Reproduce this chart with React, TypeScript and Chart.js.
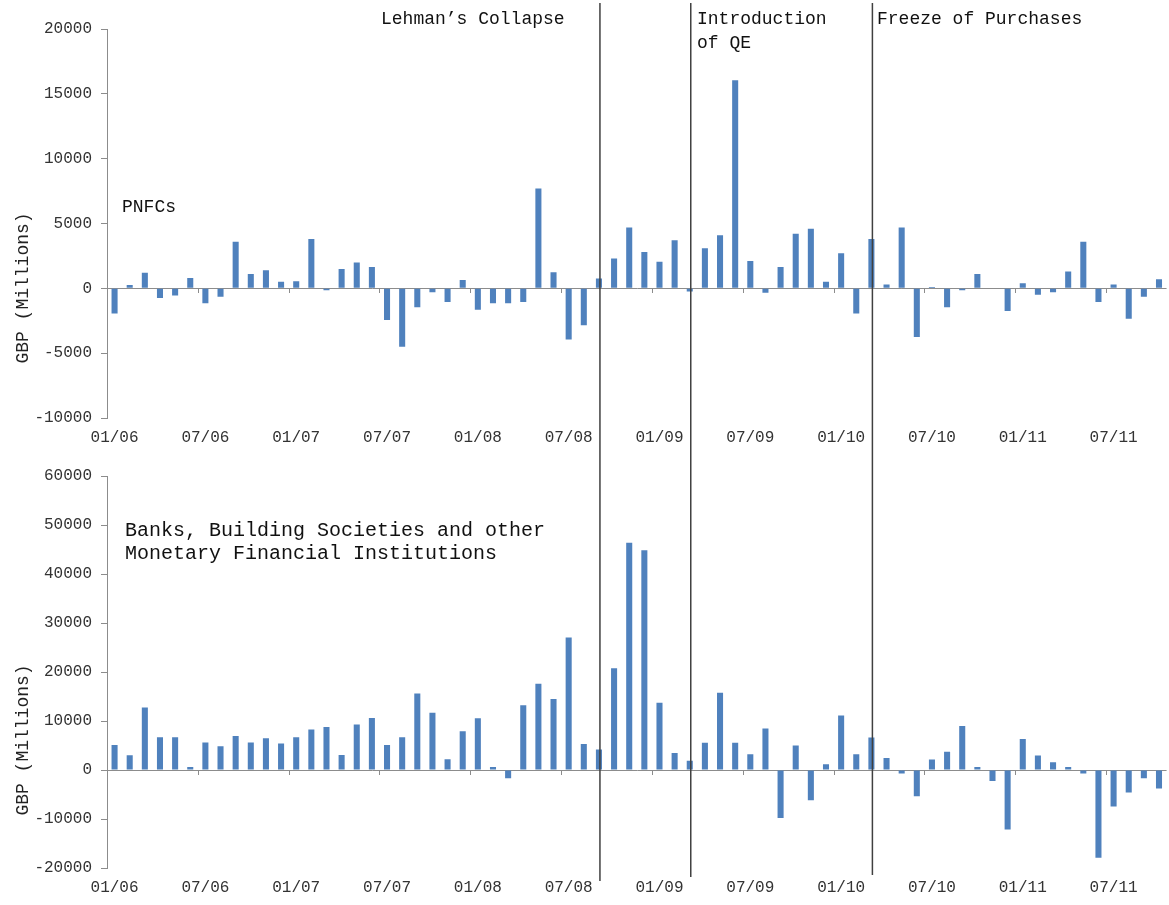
import React, { useEffect, useRef } from "react";
import { Chart, registerables } from "chart.js";

Chart.register(...registerables);

// ---------- data ----------
const months = [
  "01/06", "02/06", "03/06", "04/06", "05/06", "06/06", "07/06", "08/06", "09/06", "10/06", "11/06", "12/06",
  "01/07", "02/07", "03/07", "04/07", "05/07", "06/07", "07/07", "08/07", "09/07", "10/07", "11/07", "12/07",
  "01/08", "02/08", "03/08", "04/08", "05/08", "06/08", "07/08", "08/08", "09/08", "10/08", "11/08", "12/08",
  "01/09", "02/09", "03/09", "04/09", "05/09", "06/09", "07/09", "08/09", "09/09", "10/09", "11/09", "12/09",
  "01/10", "02/10", "03/10", "04/10", "05/10", "06/10", "07/10", "08/10", "09/10", "10/10", "11/10", "12/10",
  "01/11", "02/11", "03/11", "04/11", "05/11", "06/11", "07/11", "08/11", "09/11", "10/11",
];

const shownTickLabels = ["01/06", "07/06", "01/07", "07/07", "01/08", "07/08", "01/09", "07/09", "01/10", "07/10", "01/11", "07/11"];

const pnfcValues = [
  -1950, 250, 1200, -750, -550, 800, -1150, -650, 3600, 1100, 1400, 500,
  550, 3800, -150, 1500, 2000, 1650, -2450, -4500, -1450, -300, -1050, 650,
  -1650, -1150, -1150, -1050, 7700, 1250, -3950, -2850, 750, 2300, 4700, 2800,
  2050, 3700, -250, 3100, 4100, 16050, 2100, -350, 1650, 4200, 4600, 500,
  2700, -1950, 3800, 300, 4700, -3750, 100, -1450, -150, 1100, 0, -1750,
  400, -500, -300, 1300, 3600, -1050, 300, -2350, -650, 700,
];

const bankValues = [
  5100, 3000, 12750, 6700, 6700, 600, 5600, 4850, 6950, 5600, 6500, 5400,
  6700, 8250, 8800, 3050, 9300, 10600, 5100, 6700, 15600, 11700, 2200, 7900,
  10550, 600, -1700, 13200, 17600, 14500, 27050, 5300, 4200, 20750, 46400, 44850,
  13750, 3450, 1900, 5550, 15750, 5550, 3200, 8450, -9800, 5000, -6150, 1150,
  11100, 3200, 6650, 2450, -700, -5350, 2150, 3700, 9000, 600, -2250, -12150,
  6350, 2950, 1600, 600, -700, -17900, -7450, -4600, -1700, -3800,
];

const pnfcAxis = { min: -10000, max: 20000, step: 5000 };
const bankAxis = { min: -20000, max: 60000, step: 10000 };

const eventMonths = ["09/08", "03/09", "03/10"];
const eventLabels = [["Lehman’s Collapse"], ["Introduction", "of QE"], ["Freeze of Purchases"]];
const yAxisTitle = "GBP (Millions)";
const pnfcTitle = ["PNFCs"];
const bankTitle = ["Banks, Building Societies and other", "Monetary Financial Institutions"];

// ---------- style ----------
const MONO = '"Liberation Mono", "DejaVu Sans Mono", monospace';
const BAR = "#4F81BD";
const AXIS = "#8c8c8c";
const W = 1169;

type Note = { lines: string[]; x: number; y: number; lh: number; size: number };

const overlayPlugin = {
  id: "overlay",
  afterDatasetsDraw(chart: any, _args: any, o: any) {
    const { ctx } = chart;
    const x = chart.scales.x;
    const y = chart.scales.y;
    const y0 = y.getPixelForValue(0);
    ctx.save();
    // category tick marks on the zero line
    ctx.strokeStyle = AXIS;
    ctx.lineWidth = 1;
    months.forEach((m: string, i: number) => {
      if (i === 0 || !shownTickLabels.includes(m)) return;
      const px = Math.round((x.getPixelForValue(i - 1) + x.getPixelForValue(i)) / 2) + 0.5;
      ctx.beginPath();
      ctx.moveTo(px, Math.round(y0));
      ctx.lineTo(px, Math.round(y0) + 5);
      ctx.stroke();
    });
    // event lines
    ctx.strokeStyle = "#404040";
    ctx.lineWidth = 1.5;
    eventMonths.forEach((m: string, k: number) => {
      const px = x.getPixelForValue(months.indexOf(m)) + 1;
      ctx.beginPath();
      ctx.moveTo(px, o.lineTop);
      ctx.lineTo(px, o.lineBottoms[k]);
      ctx.stroke();
    });
    // y axis title
    ctx.fillStyle = "#222";
    ctx.font = `18px ${MONO}`;
    ctx.save();
    ctx.translate(o.titleX, o.titleY);
    ctx.rotate(-Math.PI / 2);
    ctx.textAlign = "center";
    ctx.textBaseline = "middle";
    ctx.fillText(yAxisTitle, 0, 0);
    ctx.restore();
    // annotations
    ctx.fillStyle = "#111";
    ctx.textAlign = "left";
    ctx.textBaseline = "alphabetic";
    (o.notes as Note[]).forEach((n) => {
      ctx.font = `${n.size}px ${MONO}`;
      n.lines.forEach((t, j) => ctx.fillText(t, n.x, n.y + j * n.lh));
    });
    ctx.restore();
  },
};

function makeConfig(values: number[], axis: { min: number; max: number; step: number }, lay: any) {
  return {
    type: "bar",
    data: {
      labels: months,
      datasets: [
        {
          data: values,
          backgroundColor: BAR,
          borderWidth: 0,
          categoryPercentage: 1,
          barPercentage: 0.4,
        },
      ],
    },
    plugins: [overlayPlugin],
    options: {
      responsive: false,
      animation: false,
      devicePixelRatio: 1,
      layout: { padding: { top: lay.top, left: 0, right: 0, bottom: 0 } },
      plugins: {
        legend: { display: false },
        tooltip: { enabled: false },
        overlay: lay.overlay,
      },
      scales: {
        x: {
          type: "category",
          offset: true,
          grid: { display: false, drawTicks: false },
          border: { display: false },
          ticks: {
            autoSkip: false,
            maxRotation: 0,
            minRotation: 0,
            padding: 10,
            color: "#333",
            font: { family: MONO, size: 16 },
            callback: (_v: any, i: number) => (shownTickLabels.includes(months[i]) ? months[i] : ""),
          },
          afterFit: (s: any) => {
            s.height = lay.height - lay.bottom;
          },
        },
        y: {
          min: axis.min,
          max: axis.max,
          grid: {
            color: (c: any) => (c.tick && c.tick.value === 0 ? AXIS : "rgba(0,0,0,0)"),
            tickColor: AXIS,
            tickLength: 6,
            drawTicks: true,
          },
          border: { display: true, color: AXIS, width: 1 },
          ticks: {
            stepSize: axis.step,
            padding: 9,
            color: "#333",
            font: { family: MONO, size: 16 },
            callback: (v: any) => String(v),
          },
          afterFit: (s: any) => {
            s.width = 107;
          },
        },
      },
    },
  };
}

export default function App() {
  const topRef = useRef<HTMLCanvasElement>(null);
  const botRef = useRef<HTMLCanvasElement>(null);

  useEffect(() => {
    const topH = 452;
    const botH = 453;
    const c1 = new Chart(
      topRef.current as HTMLCanvasElement,
      makeConfig(pnfcValues, pnfcAxis, {
        top: 29,
        bottom: 418,
        height: topH,
        overlay: {
          lineTop: 3,
          lineBottoms: [topH, topH, topH],
          titleX: 23,
          titleY: 288,
          notes: [
            { lines: eventLabels[0], x: 381, y: 24, lh: 0, size: 18 },
            { lines: eventLabels[1], x: 697, y: 24, lh: 24, size: 18 },
            { lines: eventLabels[2], x: 877, y: 24, lh: 0, size: 18 },
            { lines: pnfcTitle, x: 122, y: 212, lh: 0, size: 18 },
          ],
        },
      }) as any
    );
    const c2 = new Chart(
      botRef.current as HTMLCanvasElement,
      makeConfig(bankValues, bankAxis, {
        top: 24,
        bottom: 416,
        height: botH,
        overlay: {
          lineTop: 0,
          lineBottoms: [881 - topH, 877 - topH, 875 - topH],
          titleX: 23,
          titleY: 288,
          notes: [{ lines: bankTitle, x: 125, y: 84, lh: 23, size: 20 }],
        },
      }) as any
    );
    return () => {
      c1.destroy();
      c2.destroy();
    };
  }, []);

  return (
    <div style={{ position: "absolute", left: 0, top: 0, width: W, height: 905, background: "#fff" }}>
      <canvas ref={topRef} width={W} height={452} style={{ display: "block", width: W, height: 452 }} />
      <canvas ref={botRef} width={W} height={453} style={{ display: "block", width: W, height: 453 }} />
    </div>
  );
}
